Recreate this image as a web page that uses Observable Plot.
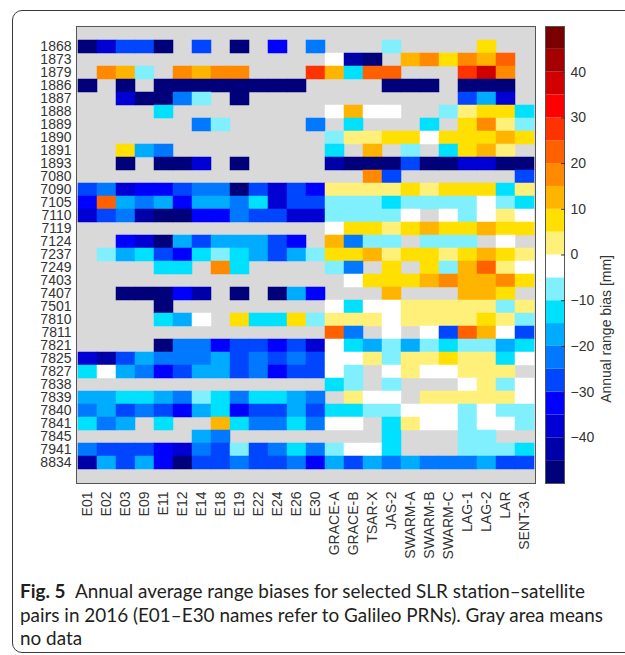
<!DOCTYPE html>
<html>
<head>
<meta charset="utf-8">
<script src="https://cdn.jsdelivr.net/npm/d3@7"></script>
<script src="https://cdn.jsdelivr.net/npm/@observablehq/plot@0.6"></script>
<style>
  html, body { margin: 0; padding: 0; background: #fff; overflow: hidden; }
  #fig { position: relative; width: 625px; height: 655px; overflow: hidden; }
  #box { position: absolute; left: 12px; top: 10px; width: 700px; height: 641px;
         border: 1px solid #3a3a3a; border-radius: 10px; }
  #heat, #bar { position: absolute; left: 0; top: 0; }
  #caption { position: absolute; left: 20px; top: 579px; white-space: nowrap;
             font-family: Lato, "Noto Sans", sans-serif; font-size: 18.9px; line-height: 23.5px; color: #231f20; }
</style>
</head>
<body>
<div id="fig">
  <div id="box"></div>
  <div id="heat"></div>
  <div id="bar"></div>
  <div id="caption"><b>Fig. 5</b>&ensp;Annual average range biases for selected SLR station–satellite<br>pairs in 2016 (E01–E30 names refer to Galileo PRNs). Gray area means<br>no data</div>
</div>
<script>
// SLR stations (rows) and satellites (columns)
const stations = ["1868","1873","1879","1886","1887","1888","1889","1890","1891","1893","7080",
  "7090","7105","7110","7119","7124","7237","7249","7403","7407","7501","7810","7811","7821",
  "7825","7827","7838","7839","7840","7841","7845","7941","8834"];
const satellites = ["E01","E02","E03","E09","E11","E12","E14","E18","E19","E22","E24","E26","E30",
  "GRACE-A","GRACE-B","TSAR-X","JAS-2","SWARM-A","SWARM-B","SWARM-C","LAG-1","LAG-2","LAR","SENT-3A"];

// Annual range bias [mm] per station (row) and satellite (column); null = no data
const _ = null;
const bias = [
  [-47,-37,-27,-27,-47,  _,-27,  _,-47,  _,-32,  _,-22,   _,  _,  _, -7,  _,  _,  _,  _,  7,  _,  _], // 1868
  [  _,  _,  _,  _,  _,  _,  _,  _,  _,  _,  _,  _,  _,  -2,-42,-47,  _, 12, 17,  7, 17, 12, 22,  _], // 1873
  [  _, 17, 12, -7,  _, 17, 12, 17, 17,  _,  _,  _, 27,  12,-12, 22, 22,  _,  _,  _, 27, 37, 17,  _], // 1879
  [-47,  _,-47,  _,-47,-47,-47,-47,-47,-47,-47,-47,  _,   _,  _,  _,-47,-47,-47,  _,-47,-47,-47,  _], // 1886
  [  _,  _,-37,-47,-47,-22, -7,  _,-47,  _,  _,  _,  _,   _,  _,  _,  _,  _,  _,  _,-27,-17,-37,  _], // 1887
  [  _,  _,  _,  _,-12,  _,  _,  _,  _,  _,  _,  _,  _,  -2, 12, -2, -2,  _,  _, -7,  2,  7,  7,-12], // 1888
  [  _,  _,  _,  _,  _,  _,-22, -7,  _,  _,  _,  _,-22,   _,-12,  _,  _,  _,-12,  _,  7, 17,  2, -7], // 1889
  [  _,  _,  _,  _,  _,  _,  _,  _,  _,  _,  _,  _,  _,  -7,  2,  2,  7,  7, -2,  7,  7,  7, 12,  7], // 1890
  [  _,  _,  7,-17,-22,  _,  _,  _,  _,  _,  _,  _,  _, -12,  _, 12,  _, -7,  _,-12,  7, 12,  2,  _], // 1891
  [  _,  _,-47,  _,-47,-47,-37,  _,-47,  _,  _,  _,  _, -42,-47,-47,-47,-27,-47,-47,-37,-37,-47,-47], // 1893
  [  _,  _,  _,  _,  _,  _,  _,  _,  _,  _,  _,  _,  _,   _,  _, 17,-27,  _,  _,  _,  _,  _,  _,-27], // 7080
  [-27,-22,-37,-32,-32,-27,-22,-22,-47,-27,-37,-27,-32,   2,  2,  2,  2,  7,  2,  7,  7,  7,-12,  2], // 7090
  [-32, 22,-17,-22,-17,-32,-17,-17,-22,-12,-37,-27,-27,  -7, -7, -7,-12, -7, -7, -7, -7, -2, -7,-12], // 7105
  [-37,-27,-22,-42,-47,-47,-32,-32,-22,-27,-27,-37,-37,  -7, -7, -7, -7, -2,  _, -2, -7, -2,  2, -2], // 7110
  [  _,  _,  _,  _,  _,  _,  _,  _,  _,  _,  _,  _,  _,  -2,  7,  7,  2,  7, 12,  7,  7, 12,  7,  7], // 7119
  [  _,  _,-32,-37,-47,-17,-27,-17,-17,-17,-27,-32,  _,  12,-22, -7, -7,  _, -7, -7, -7,  _, -2,  _], // 7124
  [  _, -7,-17,-12,-27,-32,-12, -7,-12,-17,-27,-17, -7,   7,  7, 12,  2,  7,  7,  2,  7, 12,  7,  2], // 7237
  [  _,  _,  _,  _,-12,-12,  _, 17,-12,  _,  _,  _,  _,  -7,-22,  _,  7,  _,  7, -7, 12, 22,  2, -2], // 7249
  [  _,  _,  _,  _,  _,  _,  _,  _,  _,  _,  _,  _,  _,   _, -2,  7,  7,  7, 12, 17, 12, 12, 17,  7], // 7403
  [  _,  _,-47,-47,-47,-32,-42,  _,-47,  _,-47,-17,-32,   _,  _,  _, 12,  _,  _,  _, 12, 12,  7,  _], // 7407
  [  _,  _,  _,  _,-47,  _,  _,  _,  _,  _,  _,  _,  _,  -2,-12, -2, -2,  2,  2,  2,  2,  2, -7,  2], // 7501
  [  _,  _,  _,  _,-12,-17, -2,  _,  7,-12,-12,  7, -7,   2,  2,  2, -2,  2,  2,  2,  2,  7,  2, -7], // 7810
  [  _,  _,  _,  _,  _,  _,  _,  _,  _,  _,  _,  _,  _,  22,-22,  _, -2,  _, -2,-27, 22, 12, -2,-27], // 7811
  [  _,  _,  _,  _,-47,-22,-22,-32,-27,-27,-32,-27,-37,  -2,-12,-17, -7,-17, -7,-12, -7, -7,-17,-12], // 7821
  [-37,-42,-27,-17,-22,-22,-22,-17,-27,-22,-27,-22,-27,  -2, -2,  2, -7,  2,  2,  7,  2,  2,-12, -2], // 7825
  [-12, -2,-17,-22,-32,-27,-17,-17,-27,-22,-32,-27,-27,  -2, -7,  _, -2,  2, -2, -2,  2,  2,  2,  _], // 7827
  [  _,  _,  _,  _,  _,  _,  _,  _,  _,  _,  _,  _,  _, -12, -7,  _, -7,  _,  _,  _, -2,  2, -7, -2], // 7838
  [-17,-17,-12,-12,-17,-22, -7,-12,-22,-12,-12,-17,-22,   _,  2, -2, -2,  _,  2,  2,  2,  2,  2, -2], // 7839
  [-22,-17,-27,-22,-27,-32,-17,-12,-32,-27,-27,-17,-27, -12,-12, -7, -7, -2, -2, -2, -7, -2, -7, -7], // 7840
  [-12,-22,-17,  _,-12,  _,  _, 12,-12,-22,-22,-12,-22,  -2, -2,  _,-12,  2, -2, -2, -7, -2, -2, -7], // 7841
  [  _,  _,  _,  _,  _,  _,-17,-22,  _,  _,  _,  _,  _,   _,  _,  _,-12,  _,  _,  _, -7, -7,  _,  _], // 7845
  [-22,-27,-27,-27,-32,-37,-22,-27, -7,-27,-22,-12,-22,  -7, -2, -2,-12,  _,  _,  _, -7, -7, -7,-12], // 7941
  [-42,-17,-27,-17,-32,-47,-27,-27,-22,-27,-27,-22,-32, -17,-27,-17,-22,-17,-22,-22,-22,-17,-27,-27]  // 8834
];

// Colour bar: 5 mm steps from -50 to 50 mm
const binEdges = [-50,-45,-40,-35,-30,-25,-20,-15,-10,-5,0,5,10,15,20,25,30,35,40,45,50];
const binColors = ["#00007a","#0000a8","#0000d4","#0000ff","#0046ff","#0078ff","#00acff","#00e0ff","#80f0ff","#ffffff",
                   "#fff07a","#ffe000","#ffb400","#ff8a00","#ff6000","#ff3300","#ff0000","#d00000","#a40000","#7a0000"];
const barTicks = [-40,-30,-20,-10,0,10,20,30,40];

const color = {type: "threshold", domain: binEdges.slice(1, -1), range: binColors};

const cells = stations.flatMap((s, i) =>
  satellites.map((p, j) => ({station: s, satellite: p, value: bias[i][j]}))
).filter(d => d.value != null);

const font = "'Liberation Sans', Arial, Helvetica, sans-serif";

const heat = Plot.plot({
  width: 625, height: 600,
  marginTop: 26, marginBottom: 117, marginLeft: 76, marginRight: 90,
  style: {fontFamily: font, fontSize: "14px", color: "#333", background: "transparent", overflow: "visible"},
  x: {domain: satellites, padding: 0, tickRotate: -90, tickSize: 0, tickPadding: 8, label: null},
  y: {domain: stations, padding: 0, tickSize: 0, tickPadding: 5, label: null},
  color,
  marks: [
    Plot.frame({fill: "#d9d9d9"}),
    Plot.cell(cells, {x: "satellite", y: "station", fill: "value", stroke: "value", strokeWidth: 0.5, inset: 0}),
    Plot.frame({stroke: "#555", strokeWidth: 1})
  ]
});
document.getElementById("heat").append(heat);

const bins = binColors.map((c, i) => ({lo: binEdges[i], hi: binEdges[i + 1], mid: (binEdges[i] + binEdges[i + 1]) / 2}));

const bar = Plot.plot({
  width: 625, height: 600,
  marginTop: 26, marginBottom: 117, marginLeft: 545, marginRight: 61,
  style: {fontFamily: font, fontSize: "14px", color: "#333", background: "transparent", overflow: "visible"},
  x: {domain: [0, 1], axis: null},
  y: {domain: [-50, 50], axis: null},
  color,
  marks: [
    Plot.rect(bins, {x1: 0, x2: 1, y1: "lo", y2: "hi", fill: "mid"}),
    Plot.frame({stroke: "#555", strokeWidth: 1}),
    Plot.axisY(barTicks, {anchor: "right", tickSize: -4, tickPadding: 10, label: null}),
    Plot.text(["Annual range bias [mm]"], {frameAnchor: "right", rotate: -90, dx: 42, fontSize: 14})
  ]
});
document.getElementById("bar").append(bar);
</script>
</body>
</html>
